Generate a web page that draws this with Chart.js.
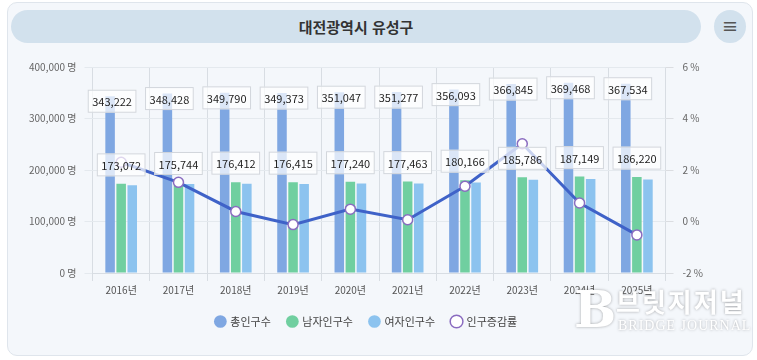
<!DOCTYPE html>
<html lang="ko">
<head>
    <meta charset="UTF-8" />
    <title>대전광역시 유성구 인구</title>
    <script src="https://cdn.jsdelivr.net/npm/chart.js"></script>
    <style>
        body {
            margin: 0;
            width: 757px;
            height: 360px;
            background: #ffffff;
            font-family: "Noto Sans CJK KR", "Noto Sans", sans-serif;
            overflow: hidden;
        }
        .card {
            position: absolute;
            left: 7px; top: 2px;
            width: 744px; height: 352px;
            background: #f4f7fb;
            border: 1px solid #dfe5ec;
            border-radius: 10px;
        }
        .title {
            position: absolute;
            left: 11px; top: 10px;
            width: 690px; height: 33px;
            background: #d2e1ed;
            border-radius: 17px;
            text-align: center;
            line-height: 33px;
            font-size: 15px;
            font-weight: bold;
            color: #333;
        }
        .menu {
            position: absolute;
            left: 714px; top: 10px;
            width: 32px; height: 33px;
            background: #d2e1ed;
            border-radius: 50%;
            text-align: center;
            line-height: 32px;
            font-size: 17px;
            font-weight: bold;
            color: #555;
        }
        .chart-box {
            position: absolute;
            left: 8px; top: 52px;
            width: 742px; height: 285px;
        }
        .mark {
            position: absolute;
            left: 574px; top: 280px;
            color: #fff;
            text-shadow: 0 0 3px rgba(0,0,0,0.35);
            pointer-events: none;
        }
        .mark .b { position: absolute; left: 0; top: 0; font: bold 50px "DejaVu Serif", serif; }
        .mark .ko { position: absolute; left: 42px; top: 2px; font-size: 26px; font-weight: bold; white-space: nowrap; letter-spacing: 2px; }
        .mark .en { position: absolute; left: 44px; top: 38px; font: 14px "Liberation Serif", serif; white-space: nowrap; letter-spacing: 1px; }
    </style>
</head>
<body>

<div class="card"></div>
<div class="title">대전광역시 유성구</div>
<div class="menu">&#8801;</div>
<div class="chart-box"><canvas id="popChart"></canvas></div>
<div class="mark"><span class="b">B</span><span class="ko">브릿지저널</span><span class="en">BRIDGE JOURNAL</span></div>

<script>
    const years = ['2016년', '2017년', '2018년', '2019년', '2020년', '2021년', '2022년', '2023년', '2024년', '2025년'];
    const totalPop = [343222, 348428, 349790, 349373, 351047, 351277, 356093, 366845, 369468, 367534];
    const malePop = [173072, 175744, 176412, 176415, 177240, 177463, 180166, 185786, 187149, 186220];
    const femalePop = [170150, 172684, 173378, 172958, 173807, 173814, 175927, 181059, 182319, 181314];
    const growthRate = [2.3, 1.52, 0.39, -0.12, 0.48, 0.07, 1.37, 3.02, 0.72, -0.52];

    const fmt = n => n.toLocaleString('en-US');

    // value boxes on total and male bars
    const labelBoxes = {
        id: 'labelBoxes',
        afterDatasetsDraw(chart) {
            const ctx = chart.ctx;
            ctx.save();
            ctx.font = '11px "Noto Sans CJK KR", sans-serif';
            ctx.textAlign = 'center';
            ctx.textBaseline = 'middle';
            const drawBox = (x, y, text) => {
                const w = ctx.measureText(text).width + 9;
                const h = 23;
                ctx.fillStyle = 'rgba(255,255,255,0.72)';
                ctx.fillRect(x - w / 2, y - h / 2, w, h);
                ctx.strokeStyle = 'rgba(205,210,216,0.9)';
                ctx.lineWidth = 1;
                ctx.strokeRect(x - w / 2 + 0.5, y - h / 2 + 0.5, w - 1, h - 1);
                ctx.fillStyle = '#222';
                ctx.fillText(text, x, y + 1);
            };
            chart.getDatasetMeta(0).data.forEach((bar, i) => drawBox(bar.x + 2, bar.y + 5, fmt(totalPop[i])));
            chart.getDatasetMeta(1).data.forEach((bar, i) => drawBox(bar.x, bar.y - 19, fmt(malePop[i])));
            ctx.restore();
        }
    };

    new Chart(document.getElementById('popChart'), {
        data: {
            labels: years,
            datasets: [
                { type: 'bar', label: '총인구수', data: totalPop, backgroundColor: '#7fa7e2', yAxisID: 'y', order: 1 },
                { type: 'bar', label: '남자인구수', data: malePop, backgroundColor: '#70cfa0', yAxisID: 'y', order: 1 },
                { type: 'bar', label: '여자인구수', data: femalePop, backgroundColor: '#8cc3ef', yAxisID: 'y', order: 1 },
                {
                    type: 'line',
                    label: '인구증감률',
                    data: growthRate,
                    yAxisID: 'y1',
                    borderColor: '#3f62c8',
                    borderWidth: 3,
                    pointRadius: 5,
                    pointBackgroundColor: '#ffffff',
                    pointBorderColor: '#8a6cc0',
                    pointBorderWidth: 1.5,
                    tension: 0,
                    order: 0
                }
            ]
        },
        options: {
            responsive: true,
            maintainAspectRatio: false,
            animation: false,
            layout: { padding: { left: 13, right: 38, top: 8, bottom: 0 } },
            datasets: { bar: { categoryPercentage: 0.58, barPercentage: 0.86 } },
            plugins: {
                legend: {
                    position: 'bottom',
                    labels: {
                        usePointStyle: true,
                        pointStyle: 'circle',
                        boxWidth: 9,
                        boxHeight: 9,
                        padding: 17,
                        color: '#444',
                        font: { size: 11, family: '"Noto Sans CJK KR", sans-serif' },
                        sort: (a, b) => a.datasetIndex - b.datasetIndex
                    }
                },
                tooltip: { enabled: false }
            },
            scales: {
                x: {
                    grid: { offset: true, color: '#d8dde3', borderDash: [4, 3] },
                    border: { color: '#d8dde3' },
                    ticks: { color: '#555', font: { size: 10, family: '"Noto Sans CJK KR", sans-serif' } }
                },
                y: {
                    position: 'left',
                    min: 0, max: 400000,
                    ticks: {
                        stepSize: 100000,
                        color: '#666',
                        padding: 8,
                        font: { size: 10, family: '"Noto Sans CJK KR", sans-serif' },
                        callback: v => fmt(v) + ' 명'
                    },
                    grid: { color: '#e4e9ee' },
                    border: { display: false }
                },
                y1: {
                    position: 'right',
                    min: -2, max: 6,
                    ticks: {
                        stepSize: 2,
                        color: '#666',
                        padding: 9,
                        font: { size: 10, family: '"Noto Sans CJK KR", sans-serif' },
                        callback: v => v + ' %'
                    },
                    grid: { drawOnChartArea: false },
                    border: { display: false }
                }
            }
        },
        plugins: [labelBoxes]
    });
</script>

</body>
</html>
